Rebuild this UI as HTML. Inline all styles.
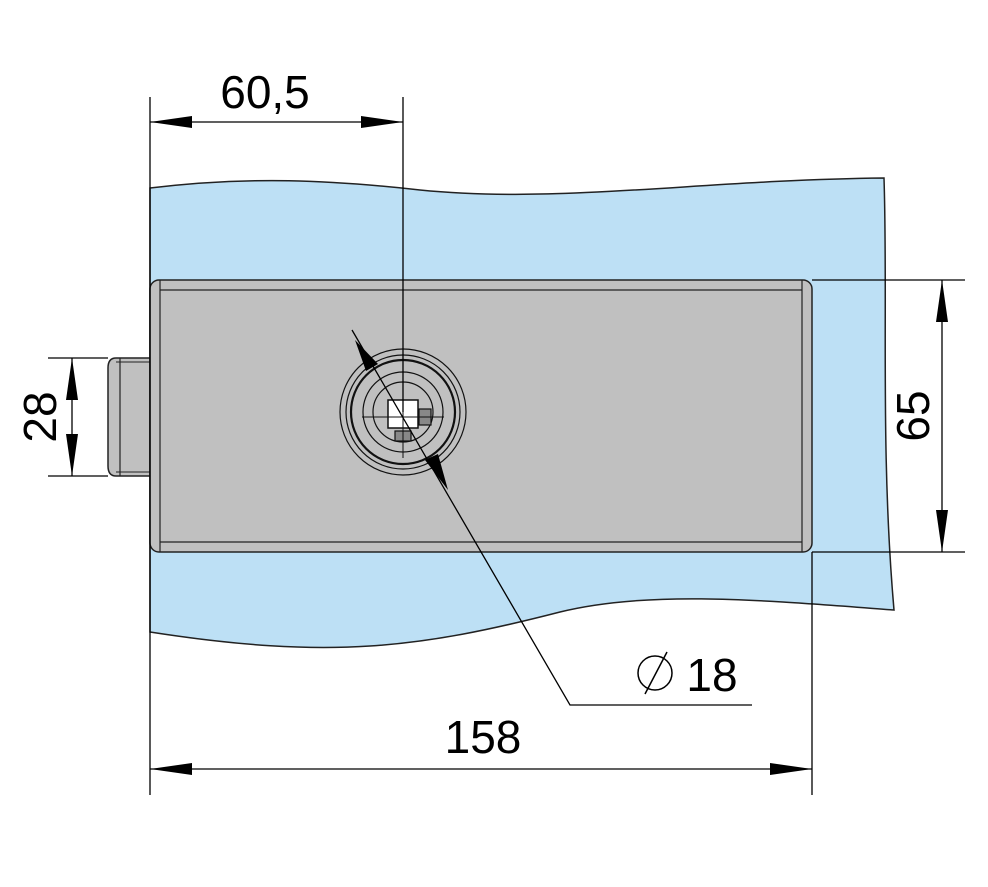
<!DOCTYPE html>
<html><head><style>body{margin:0;background:#fff}svg{display:block}</style></head><body>
<svg width="988" height="887" viewBox="0 0 988 887" xmlns="http://www.w3.org/2000/svg" font-family="Liberation Sans, sans-serif">
<defs>
<marker id="a" viewBox="0 0 10 10" refX="10" refY="5" markerWidth="42" markerHeight="12" markerUnits="userSpaceOnUse" preserveAspectRatio="none" orient="auto-start-reverse"><path d="M0,0 L10,5 L0,10 z" fill="#000"/></marker>
</defs>
<!-- glass -->
<path d="M150,188 C250,176 330,180 420,190 C560,204 700,180 884,178 C888,300 880,450 894,610 C760,600 650,590 560,612 C420,648 330,660 150,632 Z" fill="#bde0f5" stroke="#222" stroke-width="1.5"/>
<!-- bolt -->
<path d="M150,358 L116,358 Q108,358 108,368 L108,466 Q108,476 116,476 L150,476 Z" fill="#c0c0c0" stroke="#222" stroke-width="1.5"/>
<line x1="120" y1="358" x2="120" y2="476" stroke="#222" stroke-width="1.2"/>
<line x1="116" y1="362" x2="150" y2="362" stroke="#222" stroke-width="1"/>
<line x1="116" y1="472" x2="150" y2="472" stroke="#222" stroke-width="1"/>
<!-- box -->
<rect x="150" y="280" width="662" height="272" rx="9" fill="#c0c0c0" stroke="#222" stroke-width="1.5"/>
<line x1="160" y1="280" x2="160" y2="552" stroke="#222" stroke-width="1.2"/>
<line x1="802" y1="280" x2="802" y2="552" stroke="#222" stroke-width="1.2"/>
<line x1="160" y1="290" x2="802" y2="290" stroke="#222" stroke-width="1.2"/>
<line x1="160" y1="542" x2="802" y2="542" stroke="#222" stroke-width="1.2"/>
<!-- lock -->
<g fill="none" stroke="#111">
<circle cx="403" cy="412" r="63" stroke-width="1.2"/>
<circle cx="403" cy="412" r="57" stroke-width="1.2"/>
<circle cx="403" cy="412" r="52" stroke-width="2.2"/>
<circle cx="403" cy="412" r="40" stroke-width="1.2"/>
<circle cx="403" cy="412" r="30" stroke-width="1.2"/>
</g>
<rect x="388" y="400" width="30" height="28" fill="#fff" stroke="#111" stroke-width="1.5"/>
<rect x="419" y="409" width="12" height="16" fill="#888" stroke="#111" stroke-width="1.2"/>
<rect x="395" y="431" width="16" height="10" fill="#888" stroke="#111" stroke-width="1.2"/>
<line x1="362" y1="417" x2="444" y2="417" stroke="#111" stroke-width="1"/>
<line x1="403" y1="378" x2="403" y2="458" stroke="#111" stroke-width="1"/>
<!-- dimension lines -->
<g stroke="#000" stroke-width="1.3" fill="none">
<line x1="150" y1="97" x2="150" y2="795"/>
<line x1="403" y1="97" x2="403" y2="412"/>
<line x1="150" y1="122" x2="403" y2="122" marker-start="url(#a)" marker-end="url(#a)"/>
<line x1="812" y1="552" x2="812" y2="795"/>
<line x1="150" y1="769" x2="812" y2="769" marker-start="url(#a)" marker-end="url(#a)"/>
<line x1="812" y1="280" x2="965" y2="280"/>
<line x1="812" y1="552" x2="965" y2="552"/>
<line x1="942" y1="280" x2="942" y2="552" marker-start="url(#a)" marker-end="url(#a)"/>
<line x1="48" y1="358" x2="108" y2="358"/>
<line x1="48" y1="476" x2="108" y2="476"/>
<line x1="72" y1="358" x2="72" y2="476" marker-start="url(#a)" marker-end="url(#a)"/>
<polyline points="352,330 570,705 752,705"/>
</g>
<polygon points="355,340 378,364 366,371" fill="#000"/>
<polygon points="448,490 425,460 438,454" fill="#000"/>
<!-- texts -->
<g font-size="46" fill="#000">
<text x="265" y="108" text-anchor="middle">60,5</text>
<text x="483" y="753" text-anchor="middle">158</text>
<text x="712" y="691" text-anchor="middle">18</text>
<text transform="translate(929,416) rotate(-90)" text-anchor="middle">65</text>
<text transform="translate(56,417) rotate(-90)" text-anchor="middle">28</text>
</g>
<circle cx="655" cy="673" r="17" fill="none" stroke="#000" stroke-width="1.5"/>
<line x1="645" y1="694" x2="667" y2="652" stroke="#000" stroke-width="1.5"/>
</svg>
</body></html>
